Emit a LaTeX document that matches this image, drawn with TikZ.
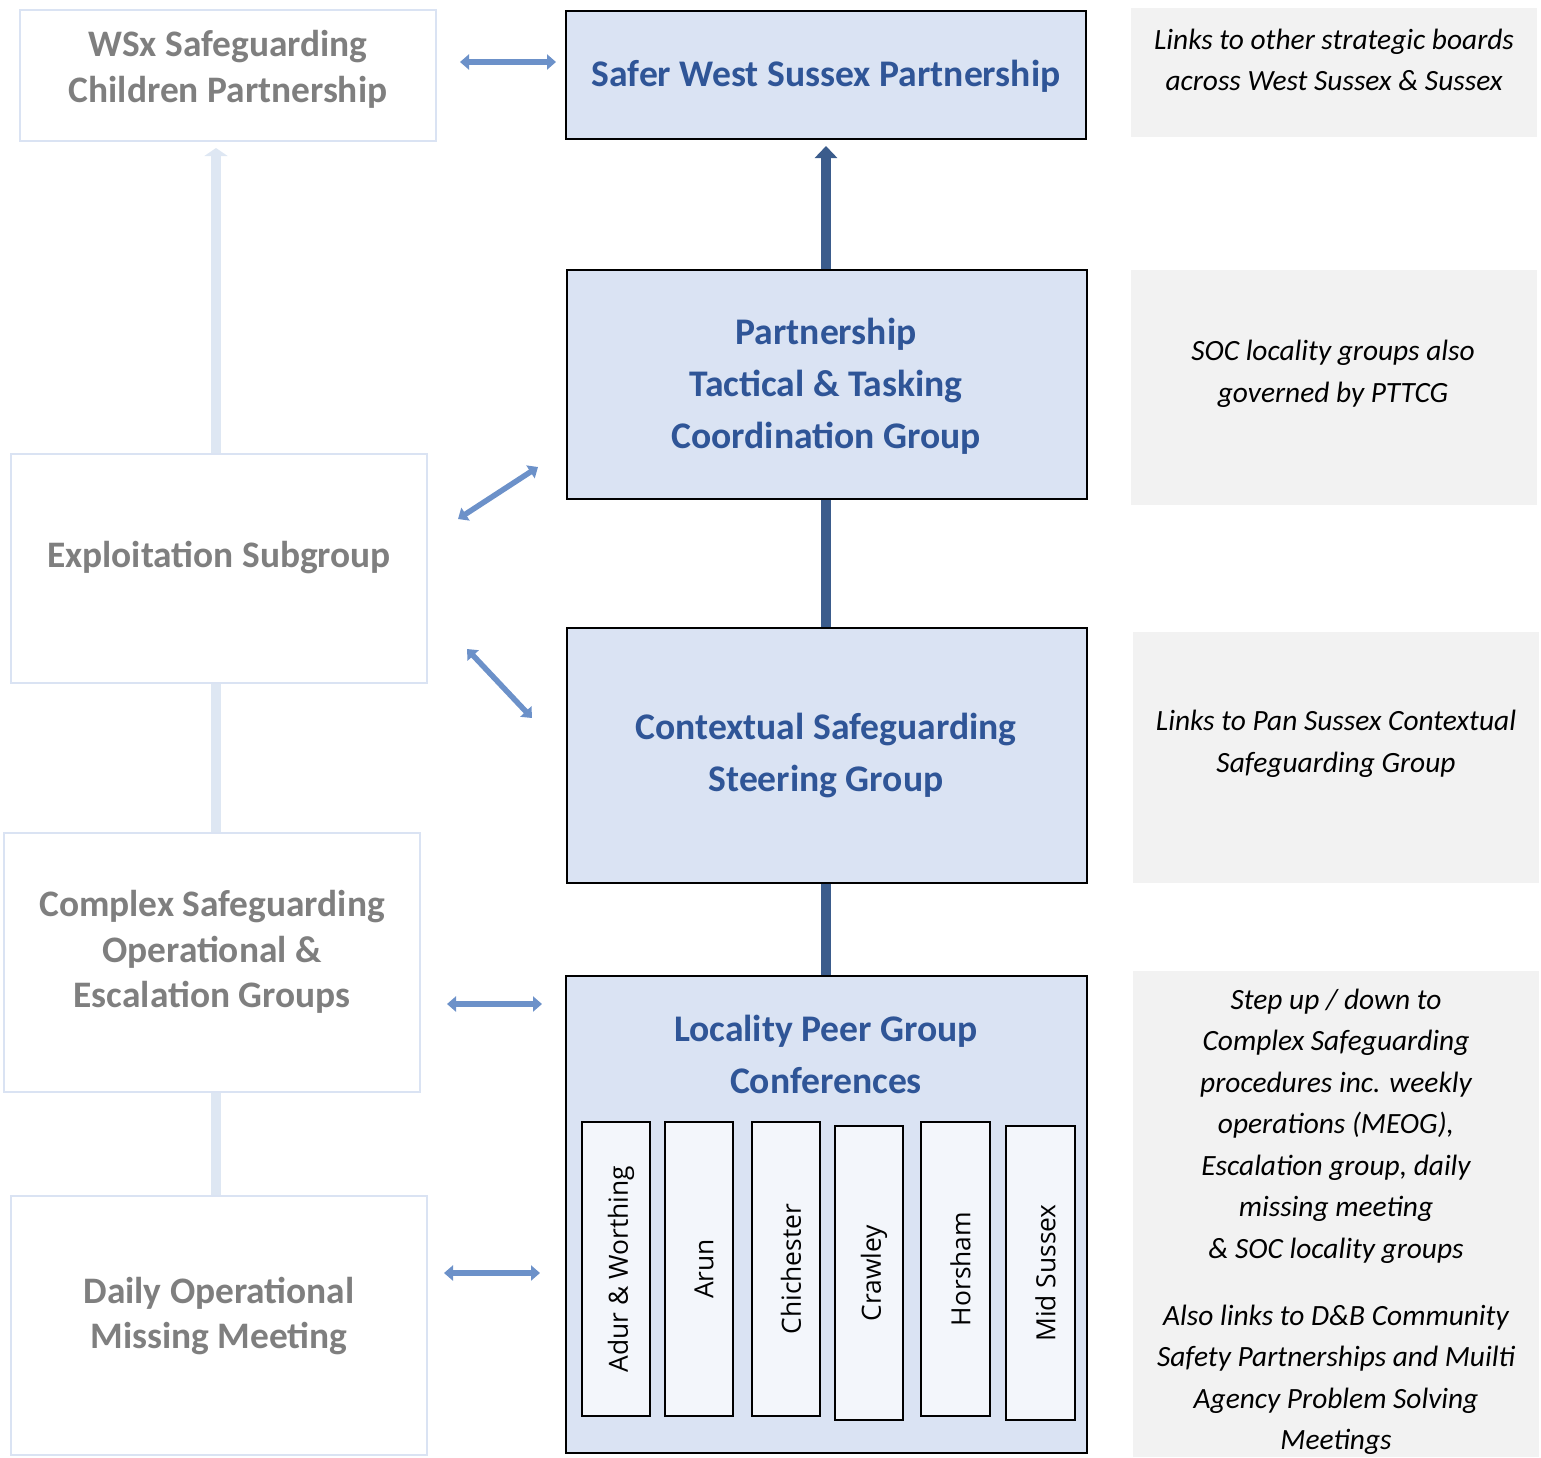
\documentclass[tikz,border=0pt]{standalone}
\usepackage{fontspec}
\setmainfont{Carlito}
\newfontfamily\lblfont{Open Sans}
\usetikzlibrary{arrows.meta,calc}
\definecolor{cfill}{HTML}{DAE3F3}
\definecolor{ctextc}{HTML}{2F5597}
\definecolor{lborder}{HTML}{DAE3F3}
\definecolor{lgrey}{HTML}{7F7F7F}
\definecolor{lconnc}{HTML}{DEE7F3}
\definecolor{rfill}{HTML}{F2F2F2}
\definecolor{ifill}{HTML}{F3F6FB}
\definecolor{darkc}{HTML}{3B5C8C}
\definecolor{medc}{HTML}{6C91C9}
\begin{document}
\begin{tikzpicture}[x=0.5pt,y=-0.5pt,
  sz/.style 2 args={minimum width=#1*0.5pt, minimum height=#2*0.5pt},
  cbox/.style={draw=black, line width=1pt, fill=cfill, inner sep=0pt},
  lbox/.style={draw=lborder, line width=1pt, fill=white, inner sep=0pt},
  rbox/.style={fill=rfill, draw=none, inner sep=0pt},
  ibox/.style={draw=black, line width=1pt, fill=ifill, inner sep=0pt},
  ctext/.style={font=\bfseries\fontsize{18.8}{26}\selectfont, text=ctextc, align=center, inner sep=0pt},
  ltext/.style={font=\bfseries\fontsize{18.7}{22.75}\selectfont, text=lgrey, align=center, inner sep=0pt},
  rtext/.style={font=\itshape\fontsize{14.7}{20.75}\selectfont, align=center, inner sep=0pt},
  itext/.style={font=\lblfont\fontsize{13.2}{15}\selectfont, rotate=90, inner sep=0pt},
  darkline/.style={draw=darkc, line width=5pt},
  lconn/.style={draw=lconnc, line width=5pt},
  dbl/.style={draw=medc, line width=2.75pt, {Triangle[width=7.5pt,length=4.5pt]}-{Triangle[width=7.5pt,length=4.5pt]}}
]
\useasboundingbox (0,0) rectangle (1541,1457);
% centre boxes
\node[cbox, sz={520}{128}] (safer) at (826,75) {};
\node[cbox, sz={520}{229}] (pttcg) at (827,384.5) {};
\node[cbox, sz={520}{255}] (cssg) at (827,755.5) {};
\node[cbox, sz={521}{477}] (loc) at (826.5,1214.5) {};
\node[ctext] (saferT) at (826,76) {Safer West Sussex Partnership};
\node[ctext] (pttcgT) at (826,386) {Partnership\\Tactical \& Tasking\\Coordination Group};
\node[ctext] (cssgT) at (826,755) {Contextual Safeguarding\\Steering Group};
\node[ctext] (locT) at (826,1054) {Locality Peer Group\\Conferences};
% locality inner boxes
\node[ibox, sz={68}{294}] (adur) at (616,1269) {};
\node[ibox, sz={68}{294}] (arun) at (699,1269) {};
\node[ibox, sz={68}{294}] (chich) at (786,1269) {};
\node[ibox, sz={68}{294}] (craw) at (869,1273) {};
\node[ibox, sz={69}{294}] (hors) at (955.5,1269) {};
\node[ibox, sz={69}{294}] (mids) at (1040.5,1273) {};
\node[itext] (adurT) at ([xshift=2.5pt]adur) {Adur \& Worthing};
\node[itext] (arunT) at ([xshift=2.5pt]arun) {Arun};
\node[itext] (chichT) at ([xshift=2.5pt]chich) {Chichester};
\node[itext] (crawT) at ([xshift=2.5pt]craw) {Crawley};
\node[itext] (horsT) at ([xshift=2.5pt]hors) {Horsham};
\node[itext] (midsT) at ([xshift=2.5pt]mids) {Mid Sussex};
% left boxes
\node[lbox, sz={416}{131}] (wsx) at (228,75.5) {};
\node[lbox, sz={416}{229}] (expl) at (219,568.5) {};
\node[lbox, sz={416}{259}] (cplx) at (212,962.5) {};
\node[lbox, sz={416}{259}] (daily) at (219,1325.5) {};
\node[ltext] (wsxT) at (228,69.5) {WSx Safeguarding\\Children Partnership};
\node[ltext] (explT) at (219,558) {Exploitation Subgroup};
\node[ltext] (cplxT) at (212,952) {Complex Safeguarding\\Operational \&\\Escalation Groups};
\node[ltext] (dailyT) at (219,1316) {Daily Operational\\Missing Meeting};
% right boxes
\node[rbox, sz={406}{129}] (r1) at (1334,72.5) {};
\node[rbox, sz={406}{235}] (r2) at (1334,387.5) {};
\node[rbox, sz={406}{251}] (r3) at (1336,757.5) {};
\node[rbox, sz={406}{486}] (r4) at (1336,1214) {};
\node[rtext] (r1T) at (1334,60) {Links to other strategic boards\\across West Sussex \& Sussex};
\node[rtext] (r2T) at (1333,374) {SOC locality groups also\\governed by PTTCG};
\node[rtext] (r3T) at (1336,744) {Links to Pan Sussex Contextual\\Safeguarding Group};
\node[rtext] (r4T) at (1336,1222) {Step up / down to\\Complex Safeguarding\\procedures inc. weekly\\operations (MEOG),\\Escalation group, daily\\missing meeting\\\& SOC locality groups\\[12.75pt]Also links to D\&B Community\\Safety Partnerships and Muilti\\Agency Problem Solving\\Meetings};
% vertical connectors
\coordinate (dx) at (826,0);
\coordinate (vx) at (216,0);
\draw[darkline, -{Triangle[width=11pt,length=6pt]}, shorten >=3pt] (dx |- pttcg.north) -- (dx |- safer.south);
\draw[darkline] (dx |- cssg.north) -- (dx |- pttcg.south);
\draw[darkline] (dx |- loc.north) -- (dx |- cssg.south);
\draw[lconn] (vx |- daily.north) -- (vx |- cplx.south);
\draw[lconn] (vx |- cplx.north) -- (vx |- expl.south);
\draw[lconn, -{Triangle[width=11.5pt,length=4pt]}, shorten >=3pt] (vx |- expl.north) -- (vx |- wsx.south);
% double arrows
\draw[dbl] ([xshift=11.5pt,yshift=6.75pt]wsx.east) -- ([xshift=-4.5pt,yshift=6.5pt]safer.west);
\draw[dbl] ([xshift=15pt,yshift=24.75pt]expl.east) -- ([xshift=-14pt,yshift=-41.25pt]pttcg.west);
\draw[dbl] ([xshift=19.5pt,yshift=-40.25pt]expl.east) -- ([xshift=-17pt,yshift=18.75pt]cssg.west);
\draw[dbl] ([xshift=13pt,yshift=-20.75pt]cplx.east) -- ([xshift=-11.5pt,yshift=105.25pt]loc.west);
\draw[dbl] ([xshift=8pt,yshift=26.25pt]daily.east) -- ([xshift=-12.5pt,yshift=-29.25pt]loc.west);
\end{tikzpicture}
\end{document}
